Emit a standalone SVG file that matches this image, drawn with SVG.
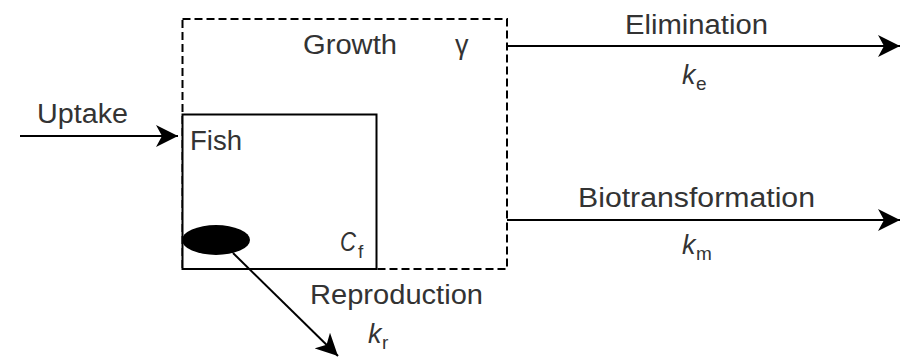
<svg xmlns="http://www.w3.org/2000/svg" width="907" height="361" viewBox="0 0 907 361">
<defs>
<marker id="ah" markerUnits="userSpaceOnUse" markerWidth="24" markerHeight="22" refX="22" refY="11" orient="auto">
<path d="M0,0 L22,11 L0,22 L6,11 z" fill="#000"/>
</marker>
<style>
.t{font-family:"Liberation Sans",Arial,sans-serif;font-size:27px;fill:#333;}
.i{font-style:italic;}
.s{font-size:19px;}
.ln{stroke:#000;stroke-width:2;fill:none;}
</style>
</defs>
<rect width="907" height="361" fill="#fff"/>
<g id="growth">
<rect x="182.5" y="19" width="324.5" height="250" fill="none" stroke="#000" stroke-width="2" stroke-dasharray="8,4"/>
<text class="t" x="303" y="54" textLength="94" lengthAdjust="spacingAndGlyphs">Growth</text>
<text class="t" x="455" y="54">γ</text>
</g>
<g id="fish">
<rect x="182.5" y="114.5" width="194" height="154.5" fill="#fff" stroke="#000" stroke-width="2"/>
<text class="t" x="190" y="150" textLength="52" lengthAdjust="spacingAndGlyphs">Fish</text>
<ellipse cx="216" cy="240" rx="34" ry="15" fill="#000"/>
<text class="t i" x="340" y="251" textLength="16" lengthAdjust="spacingAndGlyphs">C</text><text class="t s" x="358" y="258">f</text>
</g>
<g id="connectors">
<line class="ln" x1="20" y1="136" x2="178" y2="136" marker-end="url(#ah)"/>
<line class="ln" x1="507" y1="46" x2="900" y2="46" marker-end="url(#ah)"/>
<line class="ln" x1="507" y1="220" x2="900" y2="220" marker-end="url(#ah)"/>
<line class="ln" x1="233" y1="253" x2="338" y2="356" marker-end="url(#ah)"/>
</g>
<g id="labels">
<text class="t" x="37" y="123" textLength="91" lengthAdjust="spacingAndGlyphs">Uptake</text>
<text class="t" x="625" y="34" textLength="143" lengthAdjust="spacingAndGlyphs">Elimination</text>
<text class="t i" x="682" y="84">k</text><text class="t s" x="696" y="90">e</text>
<text class="t" x="578" y="207" textLength="237" lengthAdjust="spacingAndGlyphs">Biotransformation</text>
<text class="t i" x="682" y="254">k</text><text class="t s" x="696" y="260">m</text>
<text class="t" x="310" y="304" textLength="173" lengthAdjust="spacingAndGlyphs">Reproduction</text>
<text class="t i" x="368" y="343">k</text><text class="t s" x="382" y="349">r</text>
</g>
</svg>
